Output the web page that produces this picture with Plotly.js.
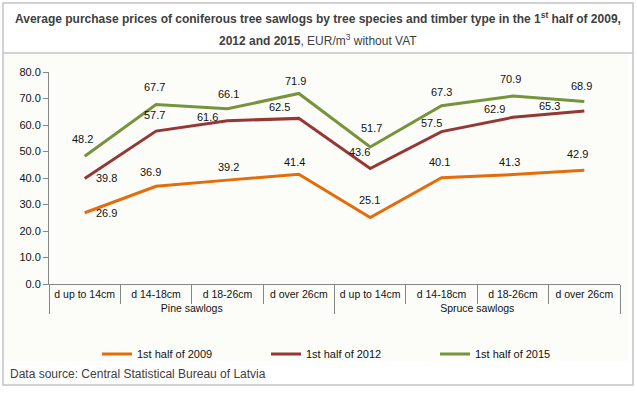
<!DOCTYPE html>
<html>
<head>
<meta charset="utf-8">
<script src="https://cdn.plot.ly/plotly-3.0.1.min.js"></script>
<style>
html,body{margin:0;padding:0;background:#fff;}
#chart{width:637px;height:397px;}
</style>
</head>
<body>
<div id="chart"></div>
<script>
// ---- data ----
const groups = ["Pine sawlogs","Pine sawlogs","Pine sawlogs","Pine sawlogs",
                "Spruce sawlogs","Spruce sawlogs","Spruce sawlogs","Spruce sawlogs"];
const categories = ["d up to 14cm","d 14-18cm","d 18-26cm","d over 26cm",
                    "d up to 14cm","d 14-18cm","d 18-26cm","d over 26cm"];
const seriesNames = ["1st half of 2009","1st half of 2012","1st half of 2015"];
const values2009 = [26.9, 36.9, 39.2, 41.4, 25.1, 40.1, 41.3, 42.9];
const values2012 = [39.8, 57.7, 61.6, 62.5, 43.6, 57.5, 62.9, 65.3];
const values2015 = [48.2, 67.7, 66.1, 71.9, 51.7, 67.3, 70.9, 68.9];
const yTickValues = [0,10,20,30,40,50,60,70,80];

// ---- styles ----
const colors = ["#E46C0A","#953735","#77933C"];
// label offsets (px) relative to each point: [dx, dy]
const labelOffsets = [
  [[22,0],[-6,14],[1,13],[-4,12],[-1,17.5],[-2,15.5],[-3,12.5],[-7,16]],
  [[22,1],[-2,16],[-20,4],[-19,11.5],[-11,16.5],[-10,9],[-18,8],[-35,5]],
  [[-2,17],[-2,17.5],[1,15],[-3,12.5],[1,19],[0,14],[-2,17],[-3,15]]
];

const L = 49, R = 620, T = 72, B = 284, W = 637, H = 397;
const px2x = p => (p - L) / (R - L);
const px2y = p => (B - p) / (B - T);
const FONT = 'Liberation Sans, Arial, sans-serif';

const allSeries = [values2009, values2012, values2015];

const traces = allSeries.map((vals, i) => ({
  type: 'scatter',
  mode: 'lines',
  x: [groups, categories],
  y: vals,
  name: seriesNames[i],
  line: {color: colors[i], width: 3},
  hoverinfo: 'skip'
}));

// invisible trace creating the numeric overlay axis used to place value labels
traces.push({
  type: 'scatter', mode: 'markers', x: categories.map((c, i) => i), y: values2009,
  xaxis: 'x2', yaxis: 'y', marker: {opacity: 0}, showlegend: false, hoverinfo: 'skip'
});

const annotations = [];
allSeries.forEach((vals, s) => {
  vals.forEach((v, i) => {
    annotations.push({
      xref: 'x2', yref: 'y', x: i, y: v,
      text: v.toFixed(1), showarrow: false,
      xshift: labelOffsets[s][i][0], yshift: labelOffsets[s][i][1],
      font: {family: FONT, size: 11, color: '#111'}
    });
  });
});

annotations.push({
  xref: 'paper', yref: 'paper', x: px2x(318), y: px2y(18),
  xanchor: 'center', yanchor: 'middle', showarrow: false,
  text: '<b>Average purchase prices of coniferous tree sawlogs by tree species and timber type in the 1<sup>st</sup> half of 2009,</b>',
  font: {family: FONT, size: 12, color: '#404040'}
});
annotations.push({
  xref: 'paper', yref: 'paper', x: px2x(318), y: px2y(40),
  xanchor: 'center', yanchor: 'middle', showarrow: false,
  text: '<b>2012 and 2015</b>, EUR/m<sup>3</sup> without VAT',
  font: {family: FONT, size: 12, color: '#404040'}
});
annotations.push({
  xref: 'paper', yref: 'paper', x: px2x(8), y: px2y(374),
  xanchor: 'left', yanchor: 'middle', showarrow: false,
  text: 'Data source: Central Statistical Bureau of Latvia',
  font: {family: FONT, size: 12, color: '#404040'}
});

const shapes = [
  {type: 'rect', xref: 'paper', yref: 'paper', layer: 'below',
   x0: px2x(3), x1: px2x(628), y0: px2y(361), y1: px2y(53),
   fillcolor: '#fcfdf9', line: {width: 0}},
  {type: 'rect', xref: 'paper', yref: 'paper', layer: 'below',
   x0: px2x(3), x1: px2x(633), y0: px2y(385), y1: px2y(3),
   fillcolor: 'rgba(0,0,0,0)', line: {color: '#c4c4c4', width: 1.5}},
  {type: 'line', xref: 'paper', yref: 'paper', layer: 'below',
   x0: px2x(3), x1: px2x(633), y0: px2y(53), y1: px2y(53),
   line: {color: '#c4c4c4', width: 1.5}}
];

const layout = {
  width: W, height: H,
  margin: {l: L, r: W - R, t: T, b: H - B, pad: 0},
  paper_bgcolor: '#ffffff',
  plot_bgcolor: 'rgba(0,0,0,0)',
  font: {family: FONT, size: 11, color: '#111'},
  showlegend: true,
  legend: {
    orientation: 'h', x: px2x(97), xanchor: 'left', y: px2y(354), yanchor: 'middle',
    bgcolor: 'rgba(0,0,0,0)', font: {size: 11, color: '#111'},
    entrywidth: 124, entrywidthmode: 'pixels', traceorder: 'normal'
  },
  xaxis: {
    type: 'multicategory',
    range: [-0.5, 7.5],
    showline: true, linecolor: '#868686', linewidth: 1,
    ticks: 'outside', tickson: 'boundaries', ticklen: 19, tickcolor: '#868686',
    showdividers: true, dividercolor: '#868686', dividerwidth: 1,
    showgrid: false, zeroline: false, tickangle: 0,
    tickfont: {size: 10.5, color: '#111'}
  },
  xaxis2: {
    overlaying: 'x', range: [-0.5, 7.5], visible: false, fixedrange: true
  },
  yaxis: {
    range: [0, 80], tickvals: yTickValues, tickformat: '.1f',
    showline: true, linecolor: '#868686', linewidth: 1,
    ticks: 'outside', ticklen: 5, tickcolor: '#868686',
    showgrid: false, zeroline: false,
    tickfont: {size: 11, color: '#111'}
  },
  annotations: annotations,
  shapes: shapes
};

Plotly.newPlot('chart', traces, layout, {displayModeBar: false, staticPlot: true});
</script>
</body>
</html>
